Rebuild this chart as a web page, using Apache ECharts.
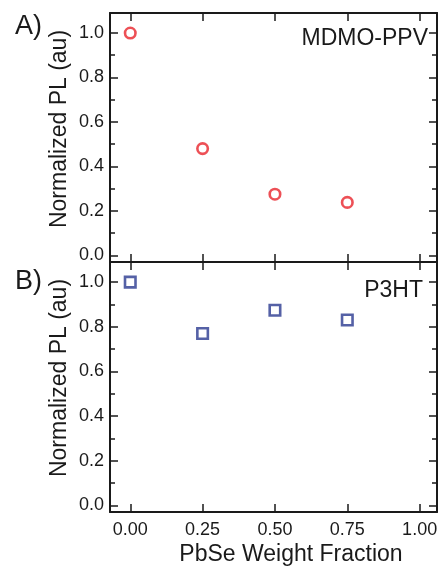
<!DOCTYPE html>
<html>
<head>
    <meta charset="UTF-8">
    <title>Normalized PL vs PbSe weight fraction</title>
    <script src="https://cdn.jsdelivr.net/npm/echarts@6.0.0/dist/echarts.min.js"></script>
    <style>
        html, body { margin: 0; padding: 0; background: #fff; }
        #main { width: 441px; height: 567px; }
    </style>
</head>
<body>
<div id="main"></div>
<script>
    // data
    var fraction = [0.00, 0.25, 0.50, 0.75];
    var mdmoPPV = [1.00, 0.48, 0.275, 0.238];
    var p3ht = [1.00, 0.77, 0.874, 0.83];
    var xTicks = [0, 0.25, 0.5, 0.75, 1.0];
    var yTicks = [0, 0.2, 0.4, 0.6, 0.8, 1.0];
    var yMinor = [0.1, 0.3, 0.5, 0.7, 0.9];

    var font = '"Liberation Sans", Arial, sans-serif';
    var ink = '#1a1a1a';
    var grids = [
        {left: 110, top: 13, width: 327, height: 249},
        {left: 110, top: 262, width: 327, height: 250}
    ];

    function xAx(g, pos, labels) {
        return {
            type: 'value', gridIndex: g, position: pos, min: -0.07, max: 1.06,
            axisLine: {show: true, onZero: false, lineStyle: {color: ink, width: 2}},
            axisTick: {show: true, inside: true, length: 8, customValues: xTicks, lineStyle: {color: ink, width: 1.5}},
            axisLabel: {show: labels, customValues: xTicks, margin: 9, fontSize: 18, color: ink, fontFamily: font,
                formatter: function (v) { return v.toFixed(2); }},
            splitLine: {show: false}
        };
    }

    function yAx(g, pos, ticks, len, labels, line) {
        return {
            type: 'value', gridIndex: g, position: pos, min: -0.03, max: 1.09,
            axisLine: {show: line, onZero: false, lineStyle: {color: ink, width: 2}},
            axisTick: {show: true, inside: true, length: len, customValues: ticks, lineStyle: {color: ink, width: 1.5}},
            axisLabel: {show: labels, customValues: ticks, margin: 6, fontSize: 18, color: ink, fontFamily: font,
                formatter: function (v) { return v.toFixed(1); }},
            splitLine: {show: false}
        };
    }

    var xAxes = [], yAxes = [];
    for (var g = 0; g < 2; g++) {
        xAxes.push(xAx(g, 'bottom', g === 1));
        xAxes.push(xAx(g, 'top', false));
        yAxes.push(yAx(g, 'left', yTicks, 8, true, true));
        yAxes.push(yAx(g, 'right', yTicks, 8, false, true));
        yAxes.push(yAx(g, 'left', yMinor, 5, false, false));
        yAxes.push(yAx(g, 'right', yMinor, 5, false, false));
    }

    function pairs(xs, ys) {
        return xs.map(function (x, i) { return [x, ys[i]]; });
    }

    function txt(x, y, s, size, align, rot) {
        return {
            type: 'text', x: x, y: y, rotation: rot || 0,
            style: {text: s, fontSize: size, fontFamily: font, fill: ink, align: align, verticalAlign: 'middle'}
        };
    }

    var chart = echarts.init(document.getElementById('main'), null, {renderer: 'canvas'});
    chart.setOption({
        animation: false,
        backgroundColor: '#fff',
        grid: grids,
        xAxis: xAxes,
        yAxis: yAxes,
        series: [
            {
                type: 'scatter', xAxisIndex: 0, yAxisIndex: 0, data: pairs(fraction, mdmoPPV),
                symbol: 'circle', symbolSize: 10.5,
                itemStyle: {color: '#fff', borderColor: '#e8242c', borderWidth: 2.6}
            },
            {
                type: 'scatter', xAxisIndex: 2, yAxisIndex: 4, data: pairs(fraction, p3ht),
                symbol: 'rect', symbolSize: 10.5,
                itemStyle: {color: '#fff', borderColor: '#2b3990', borderWidth: 2.6}
            }
        ],
        graphic: [
            txt(15, 27, 'A)', 27, 'left'),
            txt(15, 282, 'B)', 27, 'left'),
            txt(428, 39, 'MDMO-PPV', 23, 'right'),
            txt(423, 291, 'P3HT', 23, 'right'),
            txt(60, 129, 'Normalized PL (au)', 23, 'center', Math.PI / 2),
            txt(60, 378, 'Normalized PL (au)', 23, 'center', Math.PI / 2),
            txt(291, 555, 'PbSe Weight Fraction', 23, 'center')
        ]
    });
</script>
</body>
</html>
